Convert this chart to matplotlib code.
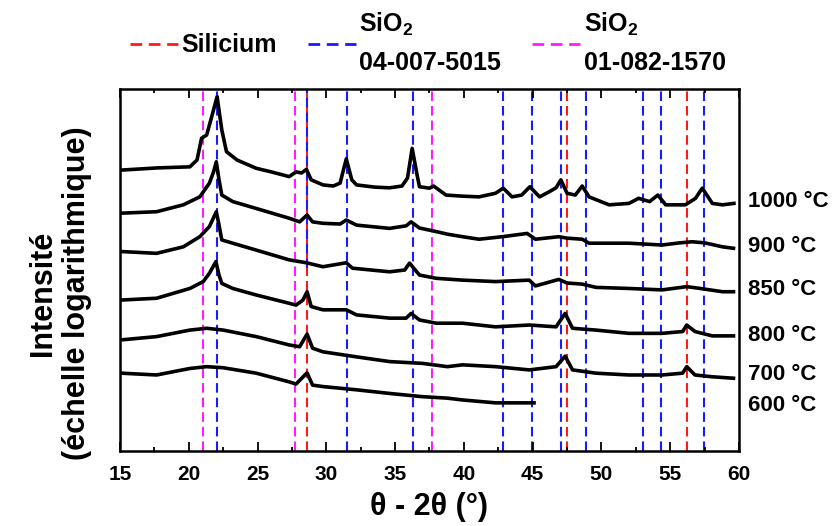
import matplotlib
matplotlib.use("Agg")
import matplotlib.pyplot as plt
from matplotlib.lines import Line2D

plt.rcParams["font.family"] = ["Liberation Sans", "DejaVu Sans"]
plt.rcParams["font.weight"] = "bold"
plt.rcParams["mathtext.fontset"] = "custom"
plt.rcParams["mathtext.rm"] = "Liberation Sans:bold"
plt.rcParams["mathtext.bf"] = "Liberation Sans:bold"
plt.rcParams["mathtext.it"] = "Liberation Sans:bold"

# --- XRD scans (2theta in degrees, log intensity with vertical offset, arb. units)
tt_1000 = [15.1, 17.7, 20.08, 20.6, 20.93, 21.3, 21.7, 22.06, 22.4, 22.74, 23.5, 24.9, 26.0,
           27.3, 27.8, 28.2, 28.55, 28.9, 29.76, 30.5, 31.0, 31.45, 31.85, 32.2, 33.5, 34.6,
           35.5, 35.9, 36.24, 36.6, 36.77, 37.5, 37.8, 38.7, 39.9, 41.1, 42.3, 42.86, 43.5,
           44.2, 44.8, 45.5, 46.2, 46.7, 47.05, 47.5, 48.1, 48.6, 49.1, 50.56, 52.0, 52.7,
           53.5, 54.1, 54.67, 56.1, 56.84, 57.33, 58.06, 58.8, 59.63]
i_1000 = [77.6, 78.2, 78.5, 80.4, 86.4, 87.3, 92.8, 97.9, 88.7, 82.7, 80.4, 78.1, 77.1,
          75.8, 77.1, 76.8, 77.8, 74.9, 73.5, 73.2, 74.0, 80.7, 74.9, 73.5, 72.9, 72.7,
          73.2, 75.4, 83.6, 76.2, 73.0, 72.6, 73.2, 70.7, 70.4, 70.2, 71.2, 72.6, 70.2,
          70.7, 73.0, 70.2, 71.6, 72.7, 74.9, 71.2, 70.7, 73.2, 70.2, 68.0, 68.4, 69.8,
          68.9, 70.7, 68.0, 68.0, 69.8, 72.6, 68.4, 68.0, 68.4]

tt_900 = [15.1, 17.66, 19.6, 20.8, 21.5, 21.8, 22.0, 22.2, 22.4, 23.2, 24.9, 27.3, 28.06,
          28.6, 29.0, 29.75, 31.0, 31.45, 32.2, 34.6, 35.8, 36.16, 36.77, 38.0, 38.8, 39.9,
          41.1, 42.8, 44.6, 45.2, 46.9, 47.5, 48.6, 49.1, 52.0, 54.4, 55.7, 56.6, 57.5,
          58.8, 59.6]
i_900 = [65.7, 66.1, 68.0, 70.2, 74.0, 77.1, 79.9, 74.9, 70.7, 68.9, 67.0, 64.3, 63.3,
         65.2, 63.3, 62.9, 62.7, 63.8, 62.4, 61.5, 62.2, 63.3, 61.6, 60.6, 59.9, 59.2,
         58.5, 59.2, 60.1, 58.5, 59.2, 58.8, 58.5, 57.4, 57.4, 56.9, 57.5, 57.8, 57.5,
         56.4, 56.0]

tt_850 = [15.1, 17.66, 19.6, 20.8, 21.5, 22.0, 22.2, 22.4, 23.2, 24.9, 27.3, 28.55, 29.75,
          31.45, 31.9, 34.6, 35.7, 36.05, 36.77, 38.0, 39.9, 42.3, 44.75, 45.2, 46.9, 47.5,
          48.6, 49.6, 52.0, 54.4, 56.2, 57.0, 58.8, 59.6]
i_850 = [55.1, 54.6, 56.4, 59.2, 62.0, 66.1, 62.4, 58.3, 57.4, 55.5, 52.8, 52.0, 50.9,
         52.0, 50.5, 49.5, 50.0, 51.9, 48.6, 47.7, 47.2, 46.8, 47.2, 45.6, 47.4, 46.4,
         46.1, 45.2, 44.9, 44.5, 45.4, 45.0, 44.0, 44.0]

tt_800 = [15.1, 17.66, 20.08, 21.05, 21.5, 21.97, 22.2, 22.4, 23.2, 24.9, 27.3, 27.8, 28.3,
          28.6, 28.9, 29.75, 31.45, 32.2, 34.6, 35.8, 36.16, 36.77, 38.0, 39.9, 42.3, 44.75,
          46.7, 47.36, 47.9, 49.6, 52.0, 54.4, 55.9, 56.2, 56.8, 58.06, 59.6]
i_800 = [41.7, 42.2, 44.9, 46.8, 49.1, 52.3, 48.6, 46.3, 44.9, 43.1, 40.8, 40.3, 41.7,
         44.0, 39.9, 39.0, 39.0, 37.6, 36.7, 36.7, 38.0, 36.2, 35.3, 35.3, 34.3, 34.8,
         34.3, 38.0, 33.9, 33.4, 32.5, 32.5, 33.0, 34.8, 33.0, 31.8, 31.8]

tt_700 = [15.1, 17.66, 20.08, 21.3, 22.5, 24.9, 27.3, 28.06, 28.6, 29.0, 29.75, 32.2, 34.6,
          37.0, 38.8, 39.9, 42.3, 44.75, 46.7, 47.36, 47.9, 49.6, 52.0, 54.4, 55.9, 56.2,
          56.8, 58.06, 59.6]
i_700 = [30.7, 31.6, 33.4, 33.9, 33.4, 31.6, 29.3, 28.8, 32.3, 28.4, 27.4, 26.0, 24.7,
         24.2, 23.3, 23.8, 23.3, 22.4, 23.3, 26.2, 22.4, 21.5, 21.0, 21.0, 21.5, 23.3,
         21.0, 20.5, 20.1]

tt_600 = [15.1, 17.66, 20.08, 21.3, 22.5, 24.9, 27.3, 27.8, 28.6, 29.0, 29.75, 32.2, 34.6,
          37.0, 38.8, 39.9, 42.3, 45.1]
i_600 = [21.5, 21.0, 22.8, 23.3, 23.0, 21.5, 19.1, 18.5, 21.6, 18.2, 17.8, 16.9, 15.9,
         15.0, 14.6, 14.1, 13.3, 13.3]

temps = ["1000 °C", "900 °C", "850 °C", "800 °C", "700 °C", "600 °C"]
label_y = [68.8, 56.6, 44.5, 32.0, 21.0, 12.7]

# reference peak positions (2theta)
si_lines = [28.6, 47.5, 56.25]
sio2_a_lines = [22.03, 31.52, 36.3, 42.86, 44.97, 47.06, 48.85, 53.04, 54.3, 57.46]
sio2_b_lines = [21.01, 27.75, 37.7]

xticks = [15, 20, 25, 30, 35, 40, 45, 50, 55, 60]
xtick_labels = ["15", "20", "25", "30", "35", "40", "45", "50", "55", "60"]
xminor = [17.5, 22.5, 27.5, 32.5, 37.5, 42.5, 47.5, 52.5, 57.5]

legend_labels = ["Silicium", "SiO$_2$\n04-007-5015", "SiO$_2$\n01-082-1570"]
RED, BLUE, MAGENTA = "#ff1a1a", "#1a1aff", "#ff1aff"

scans = [(tt_1000, i_1000), (tt_900, i_900), (tt_850, i_850),
         (tt_800, i_800), (tt_700, i_700), (tt_600, i_600)]

fig = plt.figure(figsize=(8.36, 5.26), dpi=100)
ax = fig.add_axes([120 / 836, 1 - 451 / 526, 619 / 836, 362 / 526])

dash = dict(linestyle=(0, (4.6, 2.4)), lw=1.5)
for x in si_lines:
    ax.axvline(x, color=RED, zorder=1, **dash)
for x in sio2_a_lines:
    ax.axvline(x, color=BLUE, zorder=1, **dash)
# blue line overlapping the Si (111) line, upper half only
ax.axvline(si_lines[0], ymin=0.505, color=BLUE, zorder=1.5, **dash)
for x in sio2_b_lines:
    ax.axvline(x, color=MAGENTA, zorder=1, **dash)

for (tt, inten), lab, ly in zip(scans, temps, label_y):
    ax.plot(tt, inten, color="black", lw=2.6, solid_joinstyle="round", zorder=3)
    ax.text(1.0145, ly, lab, transform=ax.get_yaxis_transform(), ha="left", va="center",
            fontsize=16, fontweight="bold")

ax.set_xlim(15, 60)
ax.set_ylim(0, 100)
ax.set_yticks([])
ax.tick_params(axis="x", which="major", direction="in", top=True, length=6.5, width=1.3,
               pad=10, labelsize=15)
ax.tick_params(axis="x", which="minor", direction="in", top=True, length=3.2, width=1.3)
ax.set_xticks(xticks, xtick_labels)
ax.set_xticks(xminor, minor=True)
for sp in ax.spines.values():
    sp.set_linewidth(1.8)

ax.set_xlabel("θ - 2θ (°)", fontsize=22, fontweight="bold", labelpad=6)
fig.text(60 / 836, 1 - 293 / 526, "Intensité\n(échelle logarithmique)", rotation=90,
         ha="center", va="center", multialignment="center", fontsize=22,
         fontweight="bold", linespacing=1.15)

leg_dash = (0, (4.2, 2.4))
handles = [Line2D([], [], color=c, lw=2, linestyle=leg_dash) for c in (RED, BLUE, MAGENTA)]
leg = ax.legend(handles, legend_labels,
                ncol=3, frameon=False, loc="center left",
                bbox_to_anchor=(130 / 836, 1 - 43 / 526), bbox_transform=fig.transFigure,
                fontsize=18, handlelength=1.9, handletextpad=0.15, columnspacing=1.25,
                borderpad=0, borderaxespad=0)
for t in leg.get_texts():
    t.set_linespacing(1.65)
    t.set_fontweight("bold")

fig.canvas.draw()
for lbl in ax.get_xticklabels():
    lbl.set_fontweight("bold")

fig.savefig("out.png", dpi=100)
